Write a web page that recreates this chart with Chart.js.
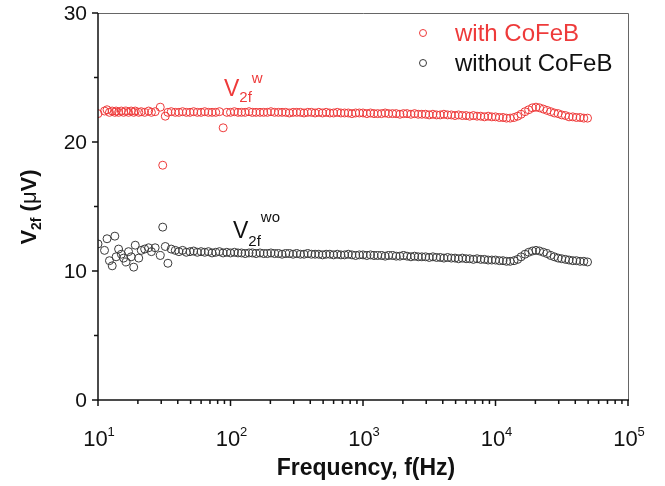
<!DOCTYPE html>
<html>
<head>
<meta charset="utf-8">
<title>V2f vs frequency</title>
<script src="https://cdn.jsdelivr.net/npm/chart.js@4.4.0/dist/chart.umd.min.js"></script>
<style>
  html, body { margin: 0; padding: 0; background: #fff; }
</style>
</head>
<body>
<canvas id="chart" width="665" height="486"></canvas>
<script>
// sweep frequencies (Hz), shared by both measurements
const freqs = [
  10, 11.2, 11.7, 12.2, 12.8, 13.4, 13.7, 14.3, 15.0, 15.6,
  16.3, 17.0, 17.8, 18.6, 19.1, 20.3, 21.2, 22.5, 24.1, 25.3,
  27.0, 29.5, 30.8, 32.2, 33.7, 35.7, 38.3,
  40.8, 43.5, 46.4, 49.5, 52.7, 56.2, 60, 63.9, 68.1, 72.6,
  77.4, 82.5, 88, 93.8,
  100, 107, 114, 121, 129, 138, 147, 156, 167, 178, 190, 202,
  215, 230, 245, 261, 278, 297, 316, 337, 359, 383, 408, 435,
  464, 495, 527, 562, 600, 639, 681, 726, 774, 825, 880, 938,
  1000, 1070, 1140, 1210, 1290, 1380, 1470, 1560, 1670, 1780, 1900, 2020,
  2150, 2300, 2450, 2610, 2780, 2970, 3160, 3370, 3590, 3830, 4080, 4350,
  4640, 4950, 5270, 5620, 6000, 6390, 6810, 7260, 7740, 8250, 8800, 9380,
  10000, 10700, 11400, 12100, 12900, 13800, 14700, 15600, 16700, 17800,
  19000, 20200, 21500, 23000, 24500, 26100, 27800, 29700, 31600, 33700,
  35900, 38300, 40800, 43500, 46400, 49500
];

// V2f (uV) with CoFeB
const withCoFeB = [
  22.2, 22.4, 22.5, 22.3, 22.4, 22.3, 22.4, 22.3, 22.4, 22.3,
  22.4, 22.3, 22.4, 22.3, 22.4, 22.3, 22.35, 22.3, 22.4, 22.3,
  22.35, 22.7, 18.2, 22.0, 22.3, 22.35, 22.3,
  22.3, 22.35, 22.3, 22.3, 22.35, 22.3, 22.3, 22.35, 22.3, 22.3,
  22.3, 22.35, 21.1, 22.3,
  22.3, 22.35, 22.3, 22.3, 22.3, 22.35, 22.3, 22.3, 22.3, 22.3, 22.3, 22.35,
  22.3, 22.3, 22.3, 22.3, 22.25, 22.3, 22.3, 22.3, 22.25, 22.3, 22.3, 22.25,
  22.3, 22.25, 22.3, 22.25, 22.25, 22.3, 22.25, 22.25, 22.25, 22.2, 22.25, 22.25,
  22.25, 22.2, 22.25, 22.2, 22.2, 22.2, 22.25, 22.2, 22.2, 22.2, 22.15, 22.2,
  22.2, 22.15, 22.2, 22.15, 22.15, 22.15, 22.1, 22.15, 22.1, 22.1, 22.15, 22.1,
  22.1, 22.05, 22.1, 22.05, 22.05, 22.0, 22.05, 22.0, 22.0, 21.95, 22.0, 21.95,
  21.95, 21.9, 21.9, 21.85, 21.85, 21.9, 22.0, 22.15, 22.35, 22.5,
  22.65, 22.7, 22.65, 22.55, 22.45, 22.35, 22.25, 22.2, 22.1, 22.05,
  21.95, 21.95, 21.9, 21.9, 21.85, 21.85
];

// V2f (uV) without CoFeB
const withoutCoFeB = [
  12.1, 11.6, 12.5, 10.8, 10.4, 12.7, 11.1, 11.7, 11.3, 11.0,
  10.7, 11.5, 11.1, 10.3, 12.0, 11.0, 11.6, 11.7, 11.8, 11.5,
  11.8, 11.2, 13.4, 11.9, 10.6, 11.7, 11.6,
  11.5, 11.6, 11.45, 11.5, 11.55, 11.45, 11.5, 11.45, 11.5, 11.4,
  11.45, 11.5, 11.4, 11.45,
  11.4, 11.45, 11.4, 11.4, 11.35, 11.4, 11.4, 11.35, 11.4, 11.35, 11.35, 11.4,
  11.35, 11.35, 11.3, 11.35, 11.35, 11.3, 11.35, 11.3, 11.3, 11.35, 11.3, 11.3,
  11.3, 11.25, 11.3, 11.3, 11.25, 11.3, 11.25, 11.25, 11.3, 11.25, 11.2, 11.25,
  11.25, 11.2, 11.25, 11.2, 11.2, 11.2, 11.15, 11.2, 11.2, 11.15, 11.15, 11.2,
  11.15, 11.1, 11.15, 11.1, 11.1, 11.1, 11.05, 11.1, 11.05, 11.05, 11.0, 11.05,
  11.0, 11.0, 10.95, 11.0, 10.95, 10.95, 10.9, 10.95, 10.9, 10.9, 10.85, 10.85,
  10.85, 10.8, 10.8, 10.75, 10.75, 10.8, 10.9, 11.1, 11.3, 11.45,
  11.55, 11.6, 11.55, 11.45, 11.35, 11.2, 11.1, 11.0, 10.95, 10.9,
  10.85, 10.8, 10.8, 10.75, 10.75, 10.7
];

const seriesNames = ['with CoFeB', 'without CoFeB'];
const yMajor = [0, 10, 20, 30];
const yMinor = [5, 15, 25];
const xExponents = [1, 2, 3, 4, 5];

const FONT = '"Liberation Sans", Arial, Helvetica, sans-serif';
const RED = '#ee3a3a';
const DARK = '#3a3a3a';

const toPoints = vals => freqs.map((f, i) => ({ x: f, y: vals[i] }));

// draw a row of text pieces (for sub/superscripts), returns end x
function drawRun(ctx, parts, x, y) {
  parts.forEach(p => {
    ctx.font = p.font;
    ctx.fillText(p.t, x, y + (p.dy || 0));
    x += ctx.measureText(p.t).width;
  });
  return x;
}
function runWidth(ctx, parts) {
  let w = 0;
  parts.forEach(p => { ctx.font = p.font; w += ctx.measureText(p.t).width; });
  return w;
}

const decor = {
  id: 'decor',
  afterDraw(chart) {
    const ctx = chart.ctx;
    const a = chart.chartArea;
    const xs = chart.scales.x, ys = chart.scales.y;
    ctx.save();

    // frame: light top/right, dark axes
    ctx.strokeStyle = '#666';
    ctx.lineWidth = 1;
    ctx.beginPath();
    ctx.moveTo(a.left, a.top + 0.5);
    ctx.lineTo(a.right + 0.5, a.top + 0.5);
    ctx.lineTo(a.right + 0.5, a.bottom);
    ctx.stroke();
    ctx.strokeStyle = '#111';
    ctx.lineWidth = 1.5;
    ctx.beginPath();
    ctx.moveTo(a.left, a.top);
    ctx.lineTo(a.left, a.bottom);
    ctx.lineTo(a.right + 1, a.bottom);
    ctx.stroke();

    // y ticks
    ctx.beginPath();
    yMajor.forEach(v => { const p = ys.getPixelForValue(v); ctx.moveTo(a.left, p); ctx.lineTo(a.left - 6, p); });
    yMinor.forEach(v => { const p = ys.getPixelForValue(v); ctx.moveTo(a.left, p); ctx.lineTo(a.left - 4, p); });
    // x ticks (decades + 2..9)
    xExponents.forEach(e => {
      const p = xs.getPixelForValue(Math.pow(10, e));
      ctx.moveTo(p, a.bottom); ctx.lineTo(p, a.bottom + 6);
      if (e < xExponents[xExponents.length - 1]) {
        for (let m = 2; m <= 9; m++) {
          const q = xs.getPixelForValue(m * Math.pow(10, e));
          ctx.moveTo(q, a.bottom); ctx.lineTo(q, a.bottom + 4);
        }
      }
    });
    ctx.stroke();

    ctx.fillStyle = '#111';
    ctx.textBaseline = 'middle';
    ctx.textAlign = 'right';
    ctx.font = '21px ' + FONT;
    yMajor.forEach(v => ctx.fillText(String(v), a.left - 11, ys.getPixelForValue(v) + 1));

    ctx.textAlign = 'left';
    ctx.textBaseline = 'alphabetic';
    xExponents.forEach(e => {
      const parts = [
        { t: '10', font: '22px ' + FONT },
        { t: String(e), font: '13px ' + FONT, dy: -10 }
      ];
      const w = runWidth(ctx, parts);
      drawRun(ctx, parts, xs.getPixelForValue(Math.pow(10, e)) - w / 2 + 1, 446);
    });

    // axis titles
    ctx.font = 'bold 23px ' + FONT;
    ctx.textAlign = 'center';
    ctx.fillText('Frequency, f(Hz)', (a.left + a.right) / 2 + 3, 475);
    ctx.textAlign = 'left';

    const yTitle = [
      { t: 'V', font: 'bold 22px ' + FONT },
      { t: '2f', font: 'bold 14px ' + FONT, dy: 5 },
      { t: ' (', font: 'bold 22px ' + FONT },
      { t: 'μ', font: '22px ' + FONT },
      { t: 'V)', font: 'bold 22px ' + FONT }
    ];
    ctx.save();
    ctx.translate(36, 207);
    ctx.rotate(-Math.PI / 2);
    drawRun(ctx, yTitle, -runWidth(ctx, yTitle) / 2, 0);
    ctx.restore();

    // legend
    const ds = chart.data.datasets;
    ds.forEach((d, i) => {
      const y = 33 + i * 30;
      ctx.strokeStyle = d.pointBorderColor;
      ctx.lineWidth = 1;
      ctx.beginPath();
      ctx.arc(423, y, 3.5, 0, Math.PI * 2);
      ctx.stroke();
      ctx.fillStyle = i === 0 ? RED : '#111';
      ctx.font = '24px ' + FONT;
      ctx.textBaseline = 'middle';
      ctx.fillText(d.label, 455, y + 1);
    });
    ctx.textBaseline = 'alphabetic';

    // curve labels
    ctx.fillStyle = RED;
    drawRun(ctx, [
      { t: 'V', font: '23px ' + FONT },
      { t: '2f', font: '15px ' + FONT, dy: 6 },
      { t: 'w', font: '15px ' + FONT, dy: -13 }
    ], 224, 96);
    ctx.fillStyle = '#111';
    drawRun(ctx, [
      { t: 'V', font: '23px ' + FONT },
      { t: '2f', font: '15px ' + FONT, dy: 8 },
      { t: 'wo', font: '15px ' + FONT, dy: -16 }
    ], 233, 238);

    ctx.restore();
  }
};

new Chart(document.getElementById('chart'), {
  type: 'scatter',
  data: {
    datasets: [
      {
        label: seriesNames[0],
        data: toPoints(withCoFeB),
        pointStyle: 'circle',
        pointRadius: 4,
        pointBorderWidth: 1,
        pointBorderColor: RED,
        pointBackgroundColor: 'rgba(255,255,255,0)'
      },
      {
        label: seriesNames[1],
        data: toPoints(withoutCoFeB),
        pointStyle: 'circle',
        pointRadius: 4,
        pointBorderWidth: 1,
        pointBorderColor: DARK,
        pointBackgroundColor: 'rgba(255,255,255,0)'
      }
    ]
  },
  options: {
    responsive: false,
    animation: false,
    layout: { padding: { left: 98, right: 37, top: 13, bottom: 86 }, autoPadding: false },
    plugins: { legend: { display: false }, tooltip: { enabled: false } },
    scales: {
      x: { type: 'logarithmic', min: 10, max: 100000, display: false },
      y: { type: 'linear', min: 0, max: 30, display: false }
    }
  },
  plugins: [decor]
});
</script>
</body>
</html>
